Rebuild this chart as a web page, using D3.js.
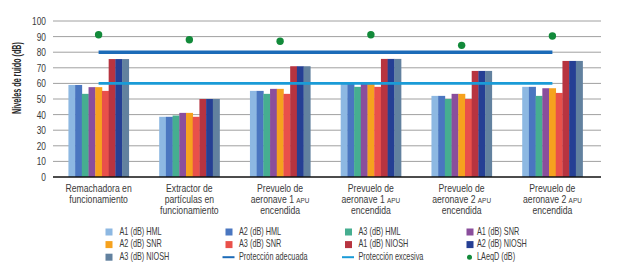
<!DOCTYPE html>
<html>
<head>
<meta charset="utf-8">
<script src="https://cdn.jsdelivr.net/npm/d3@7"></script>
<style>
  body{ margin:0; background:#fff; }
  svg text{ font-family:"Liberation Sans",Arial,sans-serif; fill:#3a3a3a; }
</style>
</head>
<body>
<div id="chart"></div>
<script>
// Niveles de ruido por actividad y protector auditivo

const categories = [
  ["Remachadora en", "funcionamiento"],
  ["Extractor de", "partículas en", "funcionamiento"],
  ["Prevuelo de", "aeronave 1 |APU", "encendida"],
  ["Prevuelo de", "aeronave 1 |APU", "encendida"],
  ["Prevuelo de", "aeronave 2 |APU", "encendida"],
  ["Prevuelo de", "aeronave 2 |APU", "encendida"]
];

const seriesNames = [
  "A1 (dB) HML", "A2 (dB) HML", "A3 (dB) HML",
  "A1 (dB) SNR", "A2 (dB) SNR", "A3 (dB) SNR",
  "A1 (dB) NIOSH", "A2 (dB) NIOSH", "A3 (dB) NIOSH"
];

const seriesColors = [
  "#8db8e2", "#4a76c0", "#46ae90",
  "#8a4e9c", "#f6a21e", "#e9504a",
  "#b73440", "#253f94", "#62819f"
];

// one row per category, one value per series
const barValues = [
  [59, 59, 53.3, 57.6, 57.6, 55.2, 75.6, 75.6, 75.6],
  [38.6, 38.6, 39.4, 41.1, 41.1, 38.6, 50, 50, 50],
  [55.2, 55.2, 53.3, 56.5, 56.5, 53.3, 71, 71, 71],
  [59.7, 59.7, 57.8, 59.7, 59.7, 57.8, 75.7, 75.7, 75.7],
  [52, 52, 50, 53.3, 53.3, 50, 68, 68, 68],
  [57.8, 57.8, 52, 56.9, 56.9, 53.9, 74.4, 74.4, 74.4]
];

const laeqD = [91.2, 88, 87, 91.2, 84.4, 90.4];
const proteccionAdecuada = [80, 80, 80, 80, 80, 80];
const proteccionExcesiva = [60, 60, 60, 60, 60, 60];

const yTicks = [0, 10, 20, 30, 40, 50, 60, 70, 80, 90, 100];

const width = 623;
const height = 275;
const margin = { top: 21, right: 25, bottom: 98, left: 53 };

const svg = d3.select("#chart")
  .append("svg")
  .attr("width", width)
  .attr("height", height);

const idx = categories.map((d, i) => i);

const x0 = d3.scaleBand()
  .domain(idx)
  .range([margin.left, width - margin.right])
  .paddingInner(0.335)
  .paddingOuter(0.17);

const x1 = d3.scaleBand()
  .domain(seriesNames)
  .range([0, x0.bandwidth()]);

const y = d3.scaleLinear()
  .domain([0, 100])
  .range([height - margin.bottom, margin.top]);

// grid
svg.append("g")
  .selectAll("line")
  .data(yTicks.filter(t => t > 0))
  .enter()
  .append("line")
  .attr("x1", margin.left)
  .attr("x2", width - 22)
  .attr("y1", d => y(d))
  .attr("y2", d => y(d))
  .attr("stroke", "#a0a0a0")
  .attr("stroke-width", 1);

// y axis labels (the original face is condensed, so squeeze horizontally)
const yAxis = svg.append("g")
  .attr("transform", `translate(${margin.left - 7},0)`)
  .call(d3.axisLeft(y).tickValues(yTicks).tickSize(0).tickPadding(0));
yAxis.select(".domain").remove();
yAxis.selectAll("text")
  .attr("x", 0)
  .attr("transform", "scale(0.76,1)")
  .style("font-size", "11px")
  .style("fill", "#3a3a3a")
  .style("font-family", null);

// bars
const groups = svg.selectAll(".cat")
  .data(barValues)
  .enter()
  .append("g")
  .attr("class", "cat")
  .attr("transform", (d, i) => `translate(${x0(i)},0)`);

groups.selectAll("rect")
  .data(d => d.map((v, j) => ({ series: seriesNames[j], value: v, color: seriesColors[j] })))
  .enter()
  .append("rect")
  .attr("x", d => x1(d.series))
  .attr("y", d => y(d.value))
  .attr("width", x1.bandwidth() + 0.3)
  .attr("height", d => y(0) - y(d.value))
  .attr("fill", d => d.color);

// zero line
svg.append("line")
  .attr("x1", margin.left)
  .attr("x2", width - 22)
  .attr("y1", y(0))
  .attr("y2", y(0))
  .attr("stroke", "#111")
  .attr("stroke-width", 1.5);

// reference lines
const cx = i => x0(i) + x0.bandwidth() / 2;
const line = d3.line().x((d, i) => cx(i)).y(d => y(d));

svg.append("path")
  .attr("d", line(proteccionExcesiva))
  .attr("fill", "none")
  .attr("stroke", "#1a9bd7")
  .attr("stroke-width", 2.8);

svg.append("path")
  .attr("d", line(proteccionAdecuada))
  .attr("fill", "none")
  .attr("stroke", "#1c6bb8")
  .attr("stroke-width", 3.4);

// LAeqD dots
svg.selectAll(".dot")
  .data(laeqD)
  .enter()
  .append("circle")
  .attr("cx", (d, i) => cx(i))
  .attr("cy", d => y(d))
  .attr("r", 3.7)
  .attr("fill", "#128a3a");

// category labels
const catLabels = svg.selectAll(".cat-label")
  .data(categories)
  .enter()
  .append("g")
  .attr("class", "cat-label")
  .attr("transform", (d, i) => `translate(${cx(i)},192)`)
  .append("text")
  .attr("text-anchor", "middle")
  .attr("transform", "scale(0.8,1)")
  .style("font-size", "10.8px");

catLabels.each(function(lines){
  const t = d3.select(this);
  lines.forEach((ln, k) => {
    const parts = ln.split("|");
    t.append("tspan")
      .attr("x", 0)
      .attr("y", k * 11)
      .text(parts[0]);
    if(parts[1]){
      t.append("tspan")
        .style("font-size", "8px")
        .text(parts[1]);
    }
  });
});

// y title
svg.append("text")
  .attr("transform", "translate(21,78) rotate(-90) scale(0.6,1)")
  .attr("text-anchor", "middle")
  .style("font-size", "12px")
  .style("font-weight", "bold")
  .style("fill", "#262626")
  .text("Niveles de ruido  (dB)");

// legend
const legendItems = seriesNames.map((n, j) => ({ name: n, type: "rect", color: seriesColors[j] }))
  .concat([
    { name: "Protección adecuada", type: "line", color: "#1c6bb8" },
    { name: "Protección excesiva", type: "line", color: "#1a9bd7" },
    { name: "LAeqD (dB)", type: "dot", color: "#128a3a" }
  ]);

const legendX = [105.5, 225.5, 345, 466.5];
const legendTextX = [14, 13.5, 13.5, 10.5];
const legendY = [232, 244.6, 257.2];

const legend = svg.selectAll(".legend")
  .data(legendItems)
  .enter()
  .append("g")
  .attr("transform", (d, i) => `translate(${legendX[i % 4]},${legendY[Math.floor(i / 4)]})`);

legend.filter(d => d.type === "rect")
  .append("rect")
  .attr("x", 0)
  .attr("y", -3.5)
  .attr("width", 7)
  .attr("height", 7)
  .attr("fill", d => d.color);

legend.filter(d => d.type === "line")
  .append("line")
  .attr("x1", -3)
  .attr("x2", 9)
  .attr("y1", 0)
  .attr("y2", 0)
  .attr("stroke", d => d.color)
  .attr("stroke-width", 2);

legend.filter(d => d.type === "dot")
  .append("circle")
  .attr("cx", 3)
  .attr("cy", 0)
  .attr("r", 2.5)
  .attr("fill", d => d.color);

legend.append("g")
  .attr("transform", (d, i) => `translate(${legendTextX[i % 4]},0)`)
  .append("text")
  .attr("transform", "scale(0.73,1)")
  .attr("dominant-baseline", "middle")
  .style("font-size", "10px")
  .text(d => d.name);
</script>
</body>
</html>
